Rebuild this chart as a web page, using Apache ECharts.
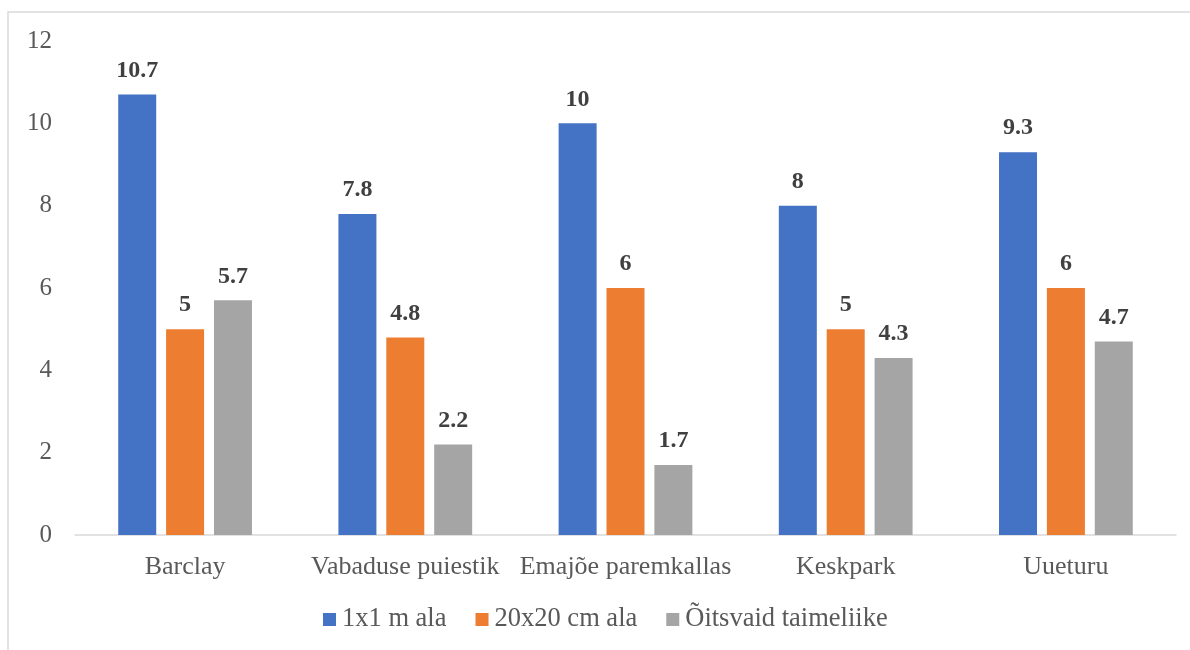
<!DOCTYPE html>
<html>
<head>
  <meta charset="UTF-8">
  <title>Taimeliigid</title>
  <script src="https://cdn.jsdelivr.net/npm/echarts@6/dist/echarts.min.js"></script>
  <style>
    html, body { margin: 0; padding: 0; background: #fff; }
    #chart { width: 1190px; height: 650px; }
  </style>
</head>
<body>
  <div id="chart"></div>
  <script>
    // andmed
    var categories = ['Barclay', 'Vabaduse puiestik', 'Emajõe paremkallas', 'Keskpark', 'Uueturu'];
    var seriesNames = ['1x1 m ala', '20x20 cm ala', 'Õitsvaid taimeliike'];
    var ala1x1 = [10.7, 7.8, 10, 8, 9.3];
    var ala20x20 = [5, 4.8, 6, 5, 6];
    var oitsvad = [5.7, 2.2, 1.7, 4.3, 4.7];
    var colors = ['#4472c4', '#ed7d31', '#a5a5a5'];

    var font = '"Liberation Serif", "Times New Roman", serif';

    var chart = echarts.init(document.getElementById('chart'));

    function makeSeries(name, data, color) {
      return {
        name: name,
        type: 'bar',
        data: data,
        barWidth: 38,
        barGap: '26%',
        itemStyle: { color: color },
        label: {
          show: true,
          position: 'top',
          distance: 12,
          fontFamily: font,
          fontSize: 24,
          fontWeight: 'bold',
          color: '#404040'
        }
      };
    }

    chart.setOption({
      animation: false,
      graphic: [{
        type: 'rect',
        shape: { x: 8, y: 12, width: 1300, height: 800 },
        style: { fill: 'none', stroke: '#d9d9d9', lineWidth: 1.5 }
      }],
      grid: { left: 75, right: 14, top: 41, bottom: 115 },
      legend: {
        data: seriesNames,
        bottom: 12,
        left: 318,
        itemWidth: 13,
        itemHeight: 13,
        itemGap: 29,
        icon: 'rect',
        textStyle: { fontFamily: font, fontSize: 26.5, color: '#595959', padding: [0, 0, 0, 1] }
      },
      xAxis: {
        type: 'category',
        data: categories,
        axisLine: { lineStyle: { color: '#d9d9d9', width: 1.5 } },
        axisTick: { show: false },
        axisLabel: { interval: 0, fontFamily: font, fontSize: 26, color: '#595959', margin: 19 }
      },
      yAxis: {
        type: 'value',
        min: 0,
        max: 12,
        interval: 2,
        splitLine: { show: false },
        axisLine: { show: false },
        axisTick: { show: false },
        axisLabel: { fontFamily: font, fontSize: 25, color: '#595959', margin: 23 }
      },
      series: [
        makeSeries(seriesNames[0], ala1x1, colors[0]),
        makeSeries(seriesNames[1], ala20x20, colors[1]),
        makeSeries(seriesNames[2], oitsvad, colors[2])
      ]
    });
  </script>
</body>
</html>
